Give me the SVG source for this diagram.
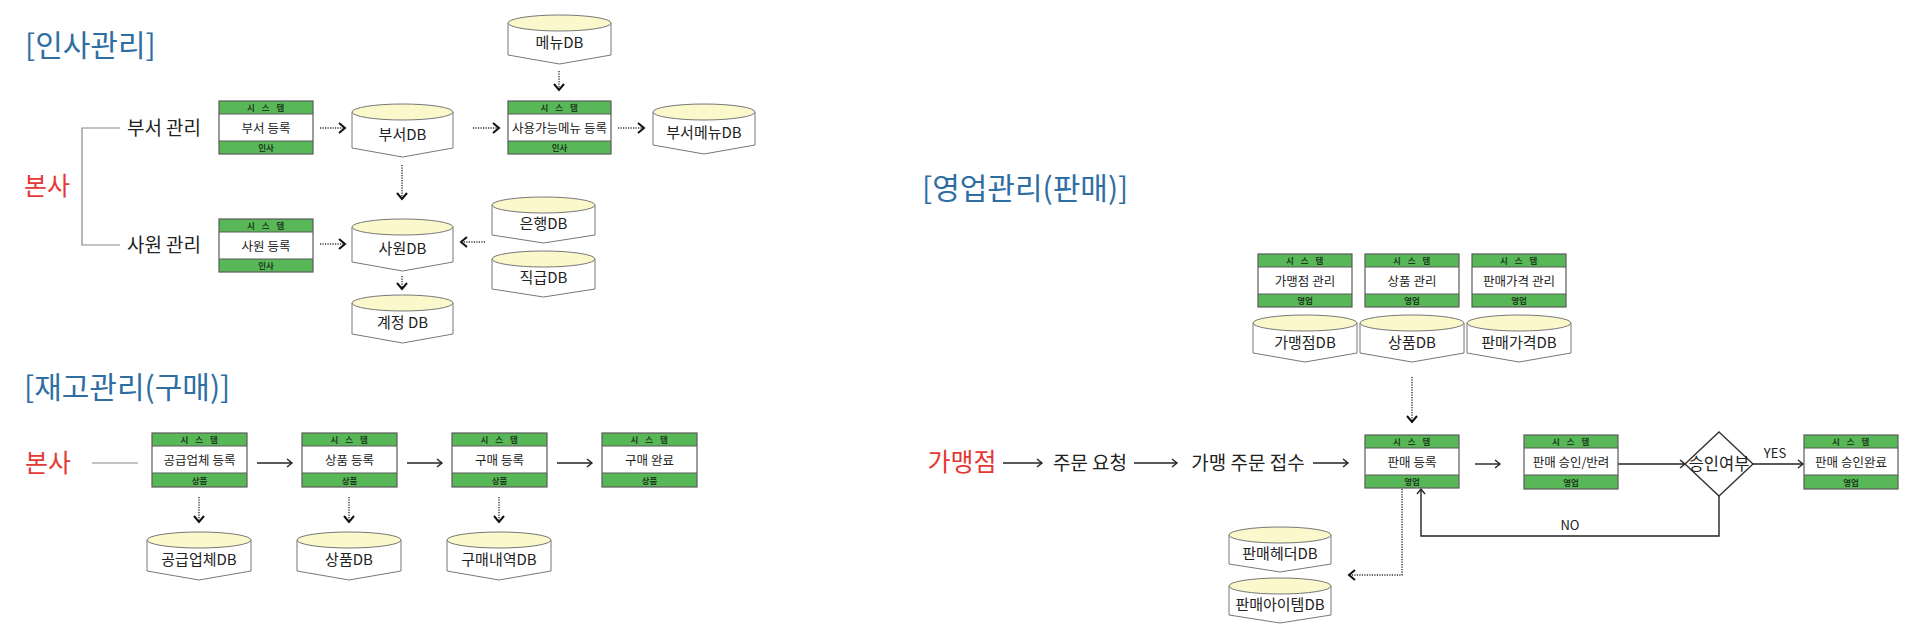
<svg xmlns="http://www.w3.org/2000/svg" width="1920" height="638" viewBox="0 0 1920 638">
<style>
text{font-family:"Noto Sans CJK KR","Noto Sans",sans-serif;}
.title{font-size:30px;fill:#2f6ea3;}
.hq{font-size:25px;fill:#e53935;text-anchor:middle;}
.act{font-size:19px;fill:#222;text-anchor:middle;}
.bx{fill:#fff;}
.band{fill:#58b858;}
.bxo{fill:none;stroke:#5a5a5a;stroke-width:1.2;}
.sep{stroke:#5a5a5a;stroke-width:1;}
.sys{font-size:8.5px;font-weight:bold;fill:#1e3d1e;text-anchor:middle;letter-spacing:2.5px;}
.lbl{font-size:12.5px;fill:#222;text-anchor:middle;}
.dept{font-size:8.5px;font-weight:bold;fill:#1e3d1e;text-anchor:middle;}
.cyl{fill:#fff;stroke:#777;stroke-width:1;stroke-linejoin:round;}
.cylTop{fill:#fbf8cb;stroke:#777;stroke-width:1;}
.dbl{font-size:15px;fill:#222;text-anchor:middle;}
.solid{fill:none;stroke:#222;stroke-width:1.4;}
.dot{fill:none;stroke:#333;stroke-width:1.4;stroke-dasharray:1.2 1.3;}
.gray{fill:none;stroke:#888;stroke-width:1.2;}
.small{font-size:13px;fill:#222;text-anchor:middle;}
</style>
<defs>
<marker id="ah" markerUnits="userSpaceOnUse" markerWidth="10" markerHeight="12" refX="6" refY="5" orient="auto">
<path d="M1,1 L6,5 L1,9" fill="none" stroke="#222" stroke-width="1.4"/>
</marker>
<marker id="ahd" markerUnits="userSpaceOnUse" markerWidth="10" markerHeight="14" refX="7" refY="6" orient="auto">
<path d="M1,1 L7,6 L1,11" fill="none" stroke="#111" stroke-width="2"/>
</marker>
</defs>
<rect width="1920" height="638" fill="#fff"/>

<!-- Section titles and plain labels -->
<g id="title-hr"><text class="title" x="25" y="56">[인사관리]</text></g>
<g id="title-inv"><text class="title" x="24" y="398">[재고관리(구매)]</text></g>
<g id="title-sales"><text class="title" x="922" y="199">[영업관리(판매)]</text></g>

<g id="hq1"><text class="hq" x="47" y="195">본사</text></g>
<g id="dept-mgmt"><text class="act" x="164" y="135">부서 관리</text></g>
<g id="emp-mgmt"><text class="act" x="164" y="252">사원 관리</text></g>
<g id="hq2"><text class="hq" x="48" y="472">본사</text></g>
<g id="franchise"><text class="hq" x="962" y="471">가맹점</text></g>
<g id="order-req"><text class="act" x="1090" y="470">주문 요청</text></g>
<g id="order-recv"><text class="act" x="1248" y="470">가맹 주문 접수</text></g>

<!-- Connectors -->
<g id="connectors">
<path class="gray" d="M120,128 H82 V245 H120"/>
<path class="dot" d="M320,128 H345" marker-end="url(#ahd)"/>
<path class="dot" d="M473,128 H499" marker-end="url(#ahd)"/>
<path class="dot" d="M618,128 H644" marker-end="url(#ahd)"/>
<path class="dot" d="M559,71 V90" marker-end="url(#ahd)"/>
<path class="dot" d="M402,165 V199" marker-end="url(#ahd)"/>
<path class="dot" d="M320,244 H345" marker-end="url(#ahd)"/>
<path class="dot" d="M402,276 V289" marker-end="url(#ahd)"/>
<path class="dot" d="M485,242 H461" marker-end="url(#ahd)"/>

<path class="gray" d="M92,463 H138"/>
<path class="solid" d="M257,463 H292" marker-end="url(#ah)"/>
<path class="solid" d="M407,463 H442" marker-end="url(#ah)"/>
<path class="solid" d="M557,463 H592" marker-end="url(#ah)"/>
<path class="dot" d="M199,497 V522" marker-end="url(#ahd)"/>
<path class="dot" d="M349,497 V522" marker-end="url(#ahd)"/>
<path class="dot" d="M499,497 V522" marker-end="url(#ahd)"/>

<path class="solid" d="M1003,463 H1042" marker-end="url(#ah)"/>
<path class="solid" d="M1134,463 H1177" marker-end="url(#ah)"/>
<path class="solid" d="M1313,463 H1348" marker-end="url(#ah)"/>
<path class="dot" d="M1412,377 V422" marker-end="url(#ahd)"/>
<path class="solid" d="M1475,464 H1500" marker-end="url(#ah)"/>
<path class="solid" d="M1618,464 H1685" marker-end="url(#ah)"/>
<path class="solid" d="M1753,464 H1803" marker-end="url(#ah)"/>
<path class="solid" d="M1719,496 V536 H1421 V489" marker-end="url(#ah)"/>
<path class="dot" d="M1402,489 V575 H1349" marker-end="url(#ahd)"/>
<text class="small" x="1775" y="458">YES</text>
<text class="small" x="1570" y="530">NO</text>
</g>

<!-- HR system boxes -->
<g id="sys-dept-reg" transform="translate(219,101)">
<rect class="bx" width="94" height="53"/><rect class="band" width="94" height="13"/><rect class="band" y="40" width="94" height="13"/>
<path class="sep" d="M0,13 H94 M0,40 H94"/><rect class="bxo" width="94" height="53"/>
<text class="sys" x="48" y="10">시 스 템</text><text class="lbl" x="47" y="31.5">부서 등록</text><text class="dept" x="47" y="50">인사</text>
</g>
<g id="sys-emp-reg" transform="translate(219,219)">
<rect class="bx" width="94" height="53"/><rect class="band" width="94" height="13"/><rect class="band" y="40" width="94" height="13"/>
<path class="sep" d="M0,13 H94 M0,40 H94"/><rect class="bxo" width="94" height="53"/>
<text class="sys" x="48" y="10">시 스 템</text><text class="lbl" x="47" y="31.5">사원 등록</text><text class="dept" x="47" y="50">인사</text>
</g>
<g id="sys-menu-reg" transform="translate(508,101)">
<rect class="bx" width="103" height="53"/><rect class="band" width="103" height="13"/><rect class="band" y="40" width="103" height="13"/>
<path class="sep" d="M0,13 H103 M0,40 H103"/><rect class="bxo" width="103" height="53"/>
<text class="sys" x="52.5" y="10">시 스 템</text><text class="lbl" x="51.5" y="31.5">사용가능메뉴 등록</text><text class="dept" x="51.5" y="50">인사</text>
</g>

<!-- HR databases -->
<g id="db-dept" transform="translate(352,104)">
<path class="cyl" d="M0,8 V44 L50.5,53 L101,44 V8 Z"/><ellipse class="cylTop" cx="50.5" cy="8" rx="50.5" ry="8"/>
<text class="dbl" x="50.5" y="36">부서DB</text>
</g>
<g id="db-emp" transform="translate(352,219)">
<path class="cyl" d="M0,8 V43 L50.5,52 L101,43 V8 Z"/><ellipse class="cylTop" cx="50.5" cy="8" rx="50.5" ry="8"/>
<text class="dbl" x="50.5" y="35">사원DB</text>
</g>
<g id="db-account" transform="translate(352,295)">
<path class="cyl" d="M0,8 V39 L50.5,48 L101,39 V8 Z"/><ellipse class="cylTop" cx="50.5" cy="8" rx="50.5" ry="8"/>
<text class="dbl" x="50.5" y="33">계정 DB</text>
</g>
<g id="db-menu" transform="translate(508,15)">
<path class="cyl" d="M0,8 V40 L51.5,49 L103,40 V8 Z"/><ellipse class="cylTop" cx="51.5" cy="8" rx="51.5" ry="8"/>
<text class="dbl" x="51.5" y="33">메뉴DB</text>
</g>
<g id="db-deptmenu" transform="translate(653,104)">
<path class="cyl" d="M0,8 V41 L51,50 L102,41 V8 Z"/><ellipse class="cylTop" cx="51" cy="8" rx="51" ry="8"/>
<text class="dbl" x="51" y="34">부서메뉴DB</text>
</g>
<g id="db-bank" transform="translate(492,197)">
<path class="cyl" d="M0,8 V38 L51.5,46 L103,38 V8 Z"/><ellipse class="cylTop" cx="51.5" cy="8" rx="51.5" ry="8"/>
<text class="dbl" x="51.5" y="32">은행DB</text>
</g>
<g id="db-rank" transform="translate(492,251)">
<path class="cyl" d="M0,8 V38 L51.5,46 L103,38 V8 Z"/><ellipse class="cylTop" cx="51.5" cy="8" rx="51.5" ry="8"/>
<text class="dbl" x="51.5" y="32">직급DB</text>
</g>

<!-- Inventory system boxes -->
<g id="sys-supplier-reg" transform="translate(152,433)">
<rect class="bx" width="95" height="54"/><rect class="band" width="95" height="13"/><rect class="band" y="40" width="95" height="14"/>
<path class="sep" d="M0,13 H95 M0,40 H95"/><rect class="bxo" width="95" height="54"/>
<text class="sys" x="48.5" y="10">시 스 템</text><text class="lbl" x="47.5" y="31.5">공급업체 등록</text><text class="dept" x="47.5" y="50.5">상품</text>
</g>
<g id="sys-product-reg" transform="translate(302,433)">
<rect class="bx" width="95" height="54"/><rect class="band" width="95" height="13"/><rect class="band" y="40" width="95" height="14"/>
<path class="sep" d="M0,13 H95 M0,40 H95"/><rect class="bxo" width="95" height="54"/>
<text class="sys" x="48.5" y="10">시 스 템</text><text class="lbl" x="47.5" y="31.5">상품 등록</text><text class="dept" x="47.5" y="50.5">상품</text>
</g>
<g id="sys-purchase-reg" transform="translate(452,433)">
<rect class="bx" width="95" height="54"/><rect class="band" width="95" height="13"/><rect class="band" y="40" width="95" height="14"/>
<path class="sep" d="M0,13 H95 M0,40 H95"/><rect class="bxo" width="95" height="54"/>
<text class="sys" x="48.5" y="10">시 스 템</text><text class="lbl" x="47.5" y="31.5">구매 등록</text><text class="dept" x="47.5" y="50.5">상품</text>
</g>
<g id="sys-purchase-done" transform="translate(602,433)">
<rect class="bx" width="95" height="54"/><rect class="band" width="95" height="13"/><rect class="band" y="40" width="95" height="14"/>
<path class="sep" d="M0,13 H95 M0,40 H95"/><rect class="bxo" width="95" height="54"/>
<text class="sys" x="48.5" y="10">시 스 템</text><text class="lbl" x="47.5" y="31.5">구매 완료</text><text class="dept" x="47.5" y="50.5">상품</text>
</g>

<!-- Inventory databases -->
<g id="db-supplier" transform="translate(147,532)">
<path class="cyl" d="M0,8 V39 L52,48 L104,39 V8 Z"/><ellipse class="cylTop" cx="52" cy="8" rx="52" ry="8"/>
<text class="dbl" x="52" y="33">공급업체DB</text>
</g>
<g id="db-product" transform="translate(297,532)">
<path class="cyl" d="M0,8 V39 L52,48 L104,39 V8 Z"/><ellipse class="cylTop" cx="52" cy="8" rx="52" ry="8"/>
<text class="dbl" x="52" y="33">상품DB</text>
</g>
<g id="db-purchase" transform="translate(447,532)">
<path class="cyl" d="M0,8 V39 L52,48 L104,39 V8 Z"/><ellipse class="cylTop" cx="52" cy="8" rx="52" ry="8"/>
<text class="dbl" x="52" y="33">구매내역DB</text>
</g>

<!-- Sales system boxes -->
<g id="sys-franchise-mgmt" transform="translate(1258,254)">
<rect class="bx" width="94" height="53"/><rect class="band" width="94" height="13"/><rect class="band" y="40" width="94" height="13"/>
<path class="sep" d="M0,13 H94 M0,40 H94"/><rect class="bxo" width="94" height="53"/>
<text class="sys" x="48" y="10">시 스 템</text><text class="lbl" x="47" y="31.5">가맹점 관리</text><text class="dept" x="47" y="50">영업</text>
</g>
<g id="sys-product-mgmt" transform="translate(1365,254)">
<rect class="bx" width="94" height="53"/><rect class="band" width="94" height="13"/><rect class="band" y="40" width="94" height="13"/>
<path class="sep" d="M0,13 H94 M0,40 H94"/><rect class="bxo" width="94" height="53"/>
<text class="sys" x="48" y="10">시 스 템</text><text class="lbl" x="47" y="31.5">상품 관리</text><text class="dept" x="47" y="50">영업</text>
</g>
<g id="sys-price-mgmt" transform="translate(1472,254)">
<rect class="bx" width="94" height="53"/><rect class="band" width="94" height="13"/><rect class="band" y="40" width="94" height="13"/>
<path class="sep" d="M0,13 H94 M0,40 H94"/><rect class="bxo" width="94" height="53"/>
<text class="sys" x="48" y="10">시 스 템</text><text class="lbl" x="47" y="31.5">판매가격 관리</text><text class="dept" x="47" y="50">영업</text>
</g>
<g id="sys-sales-reg" transform="translate(1365,435)">
<rect class="bx" width="94" height="53"/><rect class="band" width="94" height="13"/><rect class="band" y="40" width="94" height="13"/>
<path class="sep" d="M0,13 H94 M0,40 H94"/><rect class="bxo" width="94" height="53"/>
<text class="sys" x="48" y="10">시 스 템</text><text class="lbl" x="47" y="31.5">판매 등록</text><text class="dept" x="47" y="50">영업</text>
</g>
<g id="sys-sales-approve" transform="translate(1524,435)">
<rect class="bx" width="94" height="54"/><rect class="band" width="94" height="13"/><rect class="band" y="40" width="94" height="14"/>
<path class="sep" d="M0,13 H94 M0,40 H94"/><rect class="bxo" width="94" height="54"/>
<text class="sys" x="48" y="10">시 스 템</text><text class="lbl" x="47" y="31.5">판매 승인/반려</text><text class="dept" x="47" y="50.5">영업</text>
</g>
<g id="sys-sales-done" transform="translate(1804,435)">
<rect class="bx" width="94" height="54"/><rect class="band" width="94" height="13"/><rect class="band" y="40" width="94" height="14"/>
<path class="sep" d="M0,13 H94 M0,40 H94"/><rect class="bxo" width="94" height="54"/>
<text class="sys" x="48" y="10">시 스 템</text><text class="lbl" x="47" y="31.5">판매 승인완료</text><text class="dept" x="47" y="50.5">영업</text>
</g>
<g id="decision">
<path d="M1719,432 L1753,464 L1719,496 L1685,464 Z" fill="#fff" stroke="#333" stroke-width="1.4"/>
<text x="1719" y="470" font-size="16.5" fill="#222" text-anchor="middle">승인여부</text>
</g>

<!-- Sales databases -->
<g id="db-franchise" transform="translate(1253,315)">
<path class="cyl" d="M0,8 V38 L52,47 L104,38 V8 Z"/><ellipse class="cylTop" cx="52" cy="8" rx="52" ry="8"/>
<text class="dbl" x="52" y="33">가맹점DB</text>
</g>
<g id="db-sproduct" transform="translate(1360,315)">
<path class="cyl" d="M0,8 V38 L52,47 L104,38 V8 Z"/><ellipse class="cylTop" cx="52" cy="8" rx="52" ry="8"/>
<text class="dbl" x="52" y="33">상품DB</text>
</g>
<g id="db-price" transform="translate(1467,315)">
<path class="cyl" d="M0,8 V38 L52,47 L104,38 V8 Z"/><ellipse class="cylTop" cx="52" cy="8" rx="52" ry="8"/>
<text class="dbl" x="52" y="33">판매가격DB</text>
</g>
<g id="db-sales-header" transform="translate(1229,527)">
<path class="cyl" d="M0,8 V37 L51,45 L102,37 V8 Z"/><ellipse class="cylTop" cx="51" cy="8" rx="51" ry="8"/>
<text class="dbl" x="51" y="32">판매헤더DB</text>
</g>
<g id="db-sales-item" transform="translate(1229,578)">
<path class="cyl" d="M0,8 V37 L51,45 L102,37 V8 Z"/><ellipse class="cylTop" cx="51" cy="8" rx="51" ry="8"/>
<text class="dbl" x="51" y="32">판매아이템DB</text>
</g>
</svg>
